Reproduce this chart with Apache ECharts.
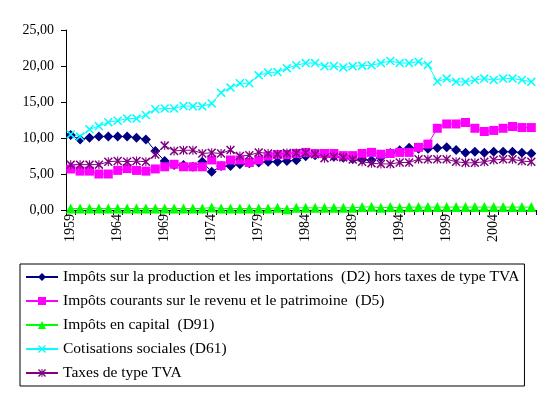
<!DOCTYPE html>
<html>
<head>
<meta charset="utf-8">
<script src="https://cdn.jsdelivr.net/npm/echarts@6/dist/echarts.min.js"></script>
<style>
html,body{margin:0;padding:0;background:#fff;}
#c{width:554px;height:395px;}
</style>
</head>
<body>
<div id="c"></div>
<script>
const years = ['1959','1960','1961','1962','1963','1964','1965','1966','1967','1968',
  '1969','1970','1971','1972','1973','1974','1975','1976','1977','1978',
  '1979','1980','1981','1982','1983','1984','1985','1986','1987','1988',
  '1989','1990','1991','1992','1993','1994','1995','1996','1997','1998',
  '1999','2000','2001','2002','2003','2004','2005','2006','2007','2008'];

const seriesNames = [
  'Impôts sur la production et les importations  (D2) hors taxes de type TVA',
  'Impôts courants sur le revenu et le patrimoine  (D5)',
  'Impôts en capital  (D91)',
  'Cotisations sociales (D61)',
  'Taxes de type TVA'
];

const d2 = [10.4,9.8,10.05,10.2,10.2,10.2,10.2,10.05,9.8,8.2,
  6.8,6.25,6.25,6.0,6.7,5.3,6.1,6.1,6.35,6.5,
  6.6,6.7,6.7,6.8,6.9,7.45,7.6,7.55,7.4,7.27,
  7.08,7.0,6.9,7.3,7.9,8.3,8.65,8.5,8.5,8.6,
  8.7,8.35,7.95,8.1,7.95,8.1,8.1,8.1,7.95,7.85];

const d5 = [5.7,5.4,5.4,5.0,5.0,5.5,5.75,5.5,5.4,5.7,
  6.0,6.35,6.0,6.0,6.0,6.95,6.15,6.95,6.95,6.6,
  6.95,7.5,7.7,7.7,7.85,8.0,7.85,7.85,7.85,7.55,
  7.55,7.85,8.0,7.75,7.85,8.0,8.0,8.7,9.15,11.35,
  11.95,11.95,12.15,11.35,10.9,11.05,11.35,11.6,11.45,11.45];

const d91 = [0.2,0.2,0.2,0.2,0.2,0.2,0.2,0.2,0.2,0.2,
  0.2,0.2,0.2,0.2,0.2,0.35,0.2,0.2,0.2,0.2,
  0.2,0.2,0.3,0.1,0.3,0.3,0.3,0.3,0.3,0.3,
  0.3,0.4,0.45,0.3,0.4,0.3,0.4,0.4,0.4,0.4,
  0.4,0.4,0.4,0.4,0.4,0.4,0.4,0.4,0.4,0.4];

const d61 = [10.5,10.2,11.2,11.65,12.2,12.4,12.7,12.7,13.2,14.0,
  14.1,14.1,14.45,14.4,14.4,14.8,16.3,17.0,17.6,17.6,
  18.7,19.1,19.15,19.7,20.1,20.4,20.4,19.95,20.0,19.8,
  19.95,20.05,20.1,20.4,20.7,20.4,20.4,20.6,20.15,17.85,
  18.25,17.8,17.8,18.05,18.25,18.05,18.25,18.25,18.05,17.8];

const tva = [6.3,6.3,6.3,6.3,6.7,6.8,6.7,6.8,6.7,7.7,
  8.95,8.2,8.3,8.3,7.85,7.95,7.85,8.35,7.5,7.6,
  8.0,7.85,7.75,7.9,7.9,7.95,7.75,7.2,7.4,7.3,
  7.0,6.7,6.5,6.4,6.4,6.6,6.6,7.05,7.05,7.05,
  7.05,6.7,6.55,6.55,6.7,6.95,7.05,7.05,6.8,6.7];

const colors = ['#000080','#FF00FF','#00FF00','#00FFFF','#800080'];
const xPath = 'path://M0,1.2L1.2,0L10,8.8L8.8,10Z M8.8,0L10,1.2L1.2,10L0,8.8Z';
const starPath = 'path://M0,1.2L1.2,0L10,8.8L8.8,10Z M8.8,0L10,1.2L1.2,10L0,8.8Z M4.4,0L5.6,0L5.6,10L4.4,10Z';
const symbols = ['diamond','rect','triangle',xPath,starPath];
const sizes = [10,9,10,9,9];
const datas = [d2,d5,d91,d61,tva];

const font = 'Liberation Serif, Times New Roman, serif';

const chart = echarts.init(document.getElementById('c'), null, {renderer:'canvas'});
chart.setOption({
  animation:false,
  backgroundColor:'#ffffff',
  grid:{left:66, right:18, top:30, bottom:185, containLabel:false},
  xAxis:{
    type:'category',
    data:years,
    boundaryGap:true,
    axisLine:{lineStyle:{color:'#000',width:1}},
    axisTick:{show:true, interval:0, length:5, lineStyle:{color:'#000'}},
    axisLabel:{interval:4, rotate:90, margin:4, color:'#000', fontFamily:font, fontSize:14}
  },
  yAxis:{
    type:'value',
    min:0, max:25, interval:5,
    axisLine:{show:true, lineStyle:{color:'#000',width:1}},
    axisTick:{show:true, length:5, lineStyle:{color:'#000'}},
    splitLine:{show:false},
    axisLabel:{color:'#000', fontFamily:font, fontSize:14, margin:12,
      formatter:v=>v.toFixed(2).replace('.',',')}
  },
  legend:{
    orient:'vertical',
    left:20, top:264,
    padding:[5,5,5,5],
    itemGap:8,
    itemWidth:32, itemHeight:10,
    borderColor:'#000', borderWidth:1,
    textStyle:{color:'#000', fontFamily:font, fontSize:15.5},
    data:seriesNames
  },
  series:datas.map((d,i)=>({
    name:seriesNames[i],
    type:'line',
    data:d,
    symbol:symbols[i],
    symbolSize:sizes[i],
    showAllSymbol:true,
    lineStyle:{color:colors[i], width:1},
    itemStyle:{color:colors[i]},
    emphasis:{disabled:true}
  }))
});
</script>
</body>
</html>
